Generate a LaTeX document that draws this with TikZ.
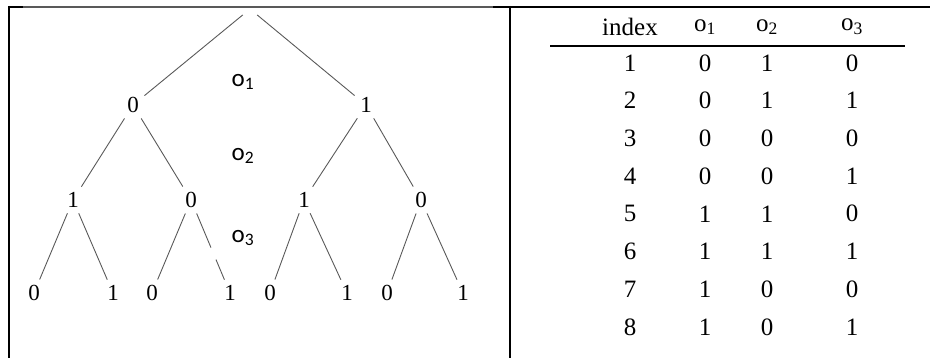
\documentclass[tikz,border=0pt]{standalone}
\usepackage{fontspec}
\setmainfont{Liberation Serif}
\newfontfamily\etichetta{Carlito}
\usepackage{tikz}
\usetikzlibrary{positioning}
\definecolor{ramo}{gray}{0.35}

\begin{document}
\begin{tikzpicture}[x=1pt, y=-1pt,
    bit/.style={inner sep=5.5pt, font=\fontsize{23}{26}\selectfont},
    ramoline/.style={draw=ramo, line width=0.9pt},
    livello/.style={font=\etichetta\fontsize{25}{28}\selectfont},
    cella/.style={font=\fontsize{25}{28}\selectfont},
    bordo/.style={line width=2pt}]

    \useasboundingbox (0,0) rectangle (930,358);

    % Cornice e separatore
    \draw[bordo] (8,7) -- (23,7);
    \draw[draw=ramo, line width=1.4pt] (23,7) -- (493,7);
    \draw[bordo] (493,7) -- (930,7);
    \draw[bordo] (9,6) -- (9,358);
    \draw[bordo] (510,6) -- (510,358);

    % Radice e nodi dell'albero
    \node[inner sep=0pt, minimum size=14pt] (r) at (250,9) {};
    \node[bit] (a) at (133,105) {0};
    \node[bit] (b) at (366,105) {1};
    \node[bit] (aa) at (73,200) {1};
    \node[bit] (ab) at (191,200) {0};
    \node[bit] (ba) at (304,200) {1};
    \node[bit] (bb) at (421,200) {0};
    \node[bit] (aaa) at (34,293) {0};
    \node[bit] (aab) at (113,293) {1};
    \node[bit] (aba) at (152,293) {0};
    \node[bit] (abb) at (230,293) {1};
    \node[bit] (baa) at (270,293) {0};
    \node[bit] (bab) at (347,293) {1};
    \node[bit] (bba) at (387,293) {0};
    \node[bit] (bbb) at (463,293) {1};

    % Rami
    \draw[ramoline] (r) -- (a);
    \draw[ramoline] (r) -- (b);
    \foreach \p in {a, b, aa, ab, ba, bb} {
        \draw[ramoline] (\p) -- (\p a);
    }
    \foreach \p in {a, b, aa, ba, bb} {
        \draw[ramoline] (\p) -- (\p b);
    }
    \draw[ramoline, dash pattern=on 37pt off 13pt on 40pt] (ab) -- (abb);

    % Etichette dei livelli
    \node[livello] (l1) at (243,82) {o\textsubscript{1}};
    \node[livello] (l2) at (243,156) {o\textsubscript{2}};
    \node[livello] (l3) at (243,238) {o\textsubscript{3}};

    % Intestazione della tabella
    \node[cella] (hidx) at (630,27) {index};
    \node[cella] (ho1) at (705,27) {o\textsubscript{1}};
    \node[cella] (ho2) at (767,27) {o\textsubscript{2}};
    \node[cella] (ho3) at (852,27) {o\textsubscript{3}};
    \draw[line width=1.3pt] (550,46) -- (905,46);

    % Righe della tabella
    \foreach \i/\u/\v/\w in {1/0/1/0, 2/0/1/1, 3/0/0/0, 4/0/0/1,
                             5/1/1/0, 6/1/1/1, 7/1/0/0, 8/1/0/1} {
        \node[cella] (idx\i) at (630,{63+(\i-1)*37.7}) {\i};
        \node[cella] (ca\i) at (705,{63+(\i-1)*37.7}) {\u};
        \node[cella] (cb\i) at (767,{63+(\i-1)*37.7}) {\v};
        \node[cella] (cc\i) at (852,{63+(\i-1)*37.7}) {\w};
    }

\end{tikzpicture}
\end{document}
